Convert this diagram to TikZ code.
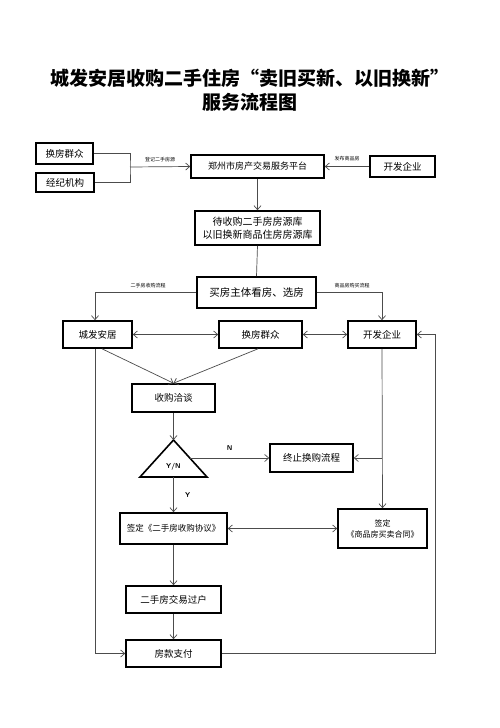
\documentclass[tikz,border=0pt]{standalone}
\usepackage{fontspec}
\setmainfont{Noto Sans CJK SC}
\usetikzlibrary{arrows.meta}
\tikzset{
    caja/.style={draw=black,line width=1.6pt,fill=white,inner sep=0pt,font=\fontsize{9.5}{11}\selectfont,align=center},
    flecha/.style={draw=black!70,line width=0.7pt,-{Straight Barb[length=4pt,width=7pt]}},
    dflecha/.style={draw=black!70,line width=0.7pt,{Straight Barb[length=4pt,width=7pt]}-{Straight Barb[length=4pt,width=7pt]}},
    linea/.style={draw=black!70,line width=0.7pt},
    etiq/.style={font=\fontsize{5}{6}\selectfont,inner sep=0pt}
}
\begin{document}
\begin{tikzpicture}[x=1pt,y=-1pt]
    \useasboundingbox[fill=white] (0,0) rectangle (500,728);

    %Titulo
    \node[font=\fontsize{19}{21}\bfseries] (t1) at (250,78) {城发安居收购二手住房“卖旧买新、以旧换新”};
    \node[font=\fontsize{19}{21}\bfseries] (t2) at (250,102) {服务流程图};

    %Cajas
    \node[caja,minimum width=57pt,minimum height=21pt] (hq1) at (64.5,153.5) {换房群众};
    \node[caja,minimum width=58pt,minimum height=19pt] (jj) at (65,182.5) {经纪机构};
    \node[caja,minimum width=133pt,minimum height=23pt,font=\fontsize{9}{11}\selectfont] (pt) at (257.5,166.5) {郑州市房产交易服务平台};
    \node[caja,minimum width=65pt,minimum height=21pt] (kf1) at (402.5,166.5) {开发企业};
    \node[caja,minimum width=125pt,minimum height=34pt,font=\fontsize{10}{13}\selectfont] (fy) at (257.5,228) {待收购二手房房源库\\以旧换新商品住房房源库};
    \node[caja,minimum width=119pt,minimum height=31pt,font=\fontsize{10.5}{12}\selectfont] (mf) at (256.5,292.5) {买房主体看房、选房};
    \node[caja,minimum width=69pt,minimum height=27pt] (cf) at (97.5,334.5) {城发安居};
    \node[caja,minimum width=83pt,minimum height=27pt] (hq2) at (260.5,334.5) {换房群众};
    \node[caja,minimum width=68pt,minimum height=27pt] (kf2) at (382,334.5) {开发企业};
    \node[caja,minimum width=83pt,minimum height=28pt] (sg) at (173.5,398) {收购洽谈};
    \node[caja,minimum width=83pt,minimum height=28pt] (zz) at (311.5,458) {终止换购流程};
    \node[caja,minimum width=107pt,minimum height=31pt,font=\fontsize{8.5}{10}\selectfont] (qd1) at (173.5,528.5) {签定《二手房收购协议》};
    \node[caja,minimum width=89pt,minimum height=39pt,font=\fontsize{8}{11}\selectfont] (qd2) at (382.5,528.5) {签定\\《商品房买卖合同》};
    \node[caja,minimum width=95pt,minimum height=27pt] (gh) at (173.5,599.5) {二手房交易过户};
    \node[caja,minimum width=95pt,minimum height=27pt] (fk) at (173.5,653.5) {房款支付};

    %Triangulo
    \coordinate (yn1) at (173.5,440);
    \coordinate (yn2) at (173.5,477);
    \coordinate (yn3) at (190,458);
    \draw[line width=1.6pt,fill=white] (yn1) -- (207,477) -- (140,477) -- cycle;
    \node[font=\fontsize{7}{8}\bfseries\sffamily] (yn) at (173.5,467) {Y/N};

    %Puntos de paso
    \coordinate (jn) at (130,167);
    \coordinate (rr) at (435,334.5);
    \coordinate (kz) at (kf2.south |- zz.east);

    %Conectores arriba
    \draw[linea] (hq1.east) -| (jn) |- (jj.east);
    \draw[flecha] (jn) -- (pt.west) node[etiq,midway,above=5pt] {登记二手房源};
    \draw[flecha] (kf1.west) -- (pt.east) node[etiq,midway,above=5pt] {发布商品房};
    \draw[flecha] (pt.south) -- (fy.north);
    \draw[linea] (fy.south) -- (mf.north);
    \draw[flecha] (mf.west) -| ([xshift=-2.5pt]cf.north);
    \node[etiq] (l1) at (148,286) {二手房收购流程};
    \draw[flecha] (mf.east) -| (kf2.north);
    \node[etiq] (l2) at (352,286) {商品房购买流程};

    %Conectores medio
    \draw[dflecha] (cf.east) -- (hq2.west);
    \draw[dflecha] (hq2.east) -- (kf2.west);
    \draw[flecha] ([xshift=4.5pt]cf.south) -- (sg.north);
    \draw[flecha] ([xshift=-2.5pt]hq2.south) -- (sg.north);
    \draw[flecha] (sg.south) -- (yn1);
    \draw[flecha] (yn3) -- (zz.west) node[midway,above=4pt,font=\fontsize{7}{8}\bfseries\sffamily] {N};
    \draw[flecha] (kz) -- (zz.east);
    \draw[flecha] (kf2.south) -- (qd2.north);
    \draw[flecha] (yn2) -- (qd1.north) node[midway,right=8pt,font=\fontsize{7}{8}\bfseries\sffamily] {Y};
    \draw[dflecha] (qd1.east) -- (qd2.west);

    %Conectores abajo
    \draw[flecha] (qd1.south) -- (gh.north);
    \draw[flecha] (gh.south) -- (fk.north);
    \draw[flecha] ([xshift=-2.5pt]cf.south) |- (fk.west);
    \draw[flecha] (fk.east) -| (rr) -- (kf2.east);

\end{tikzpicture}
\end{document}
